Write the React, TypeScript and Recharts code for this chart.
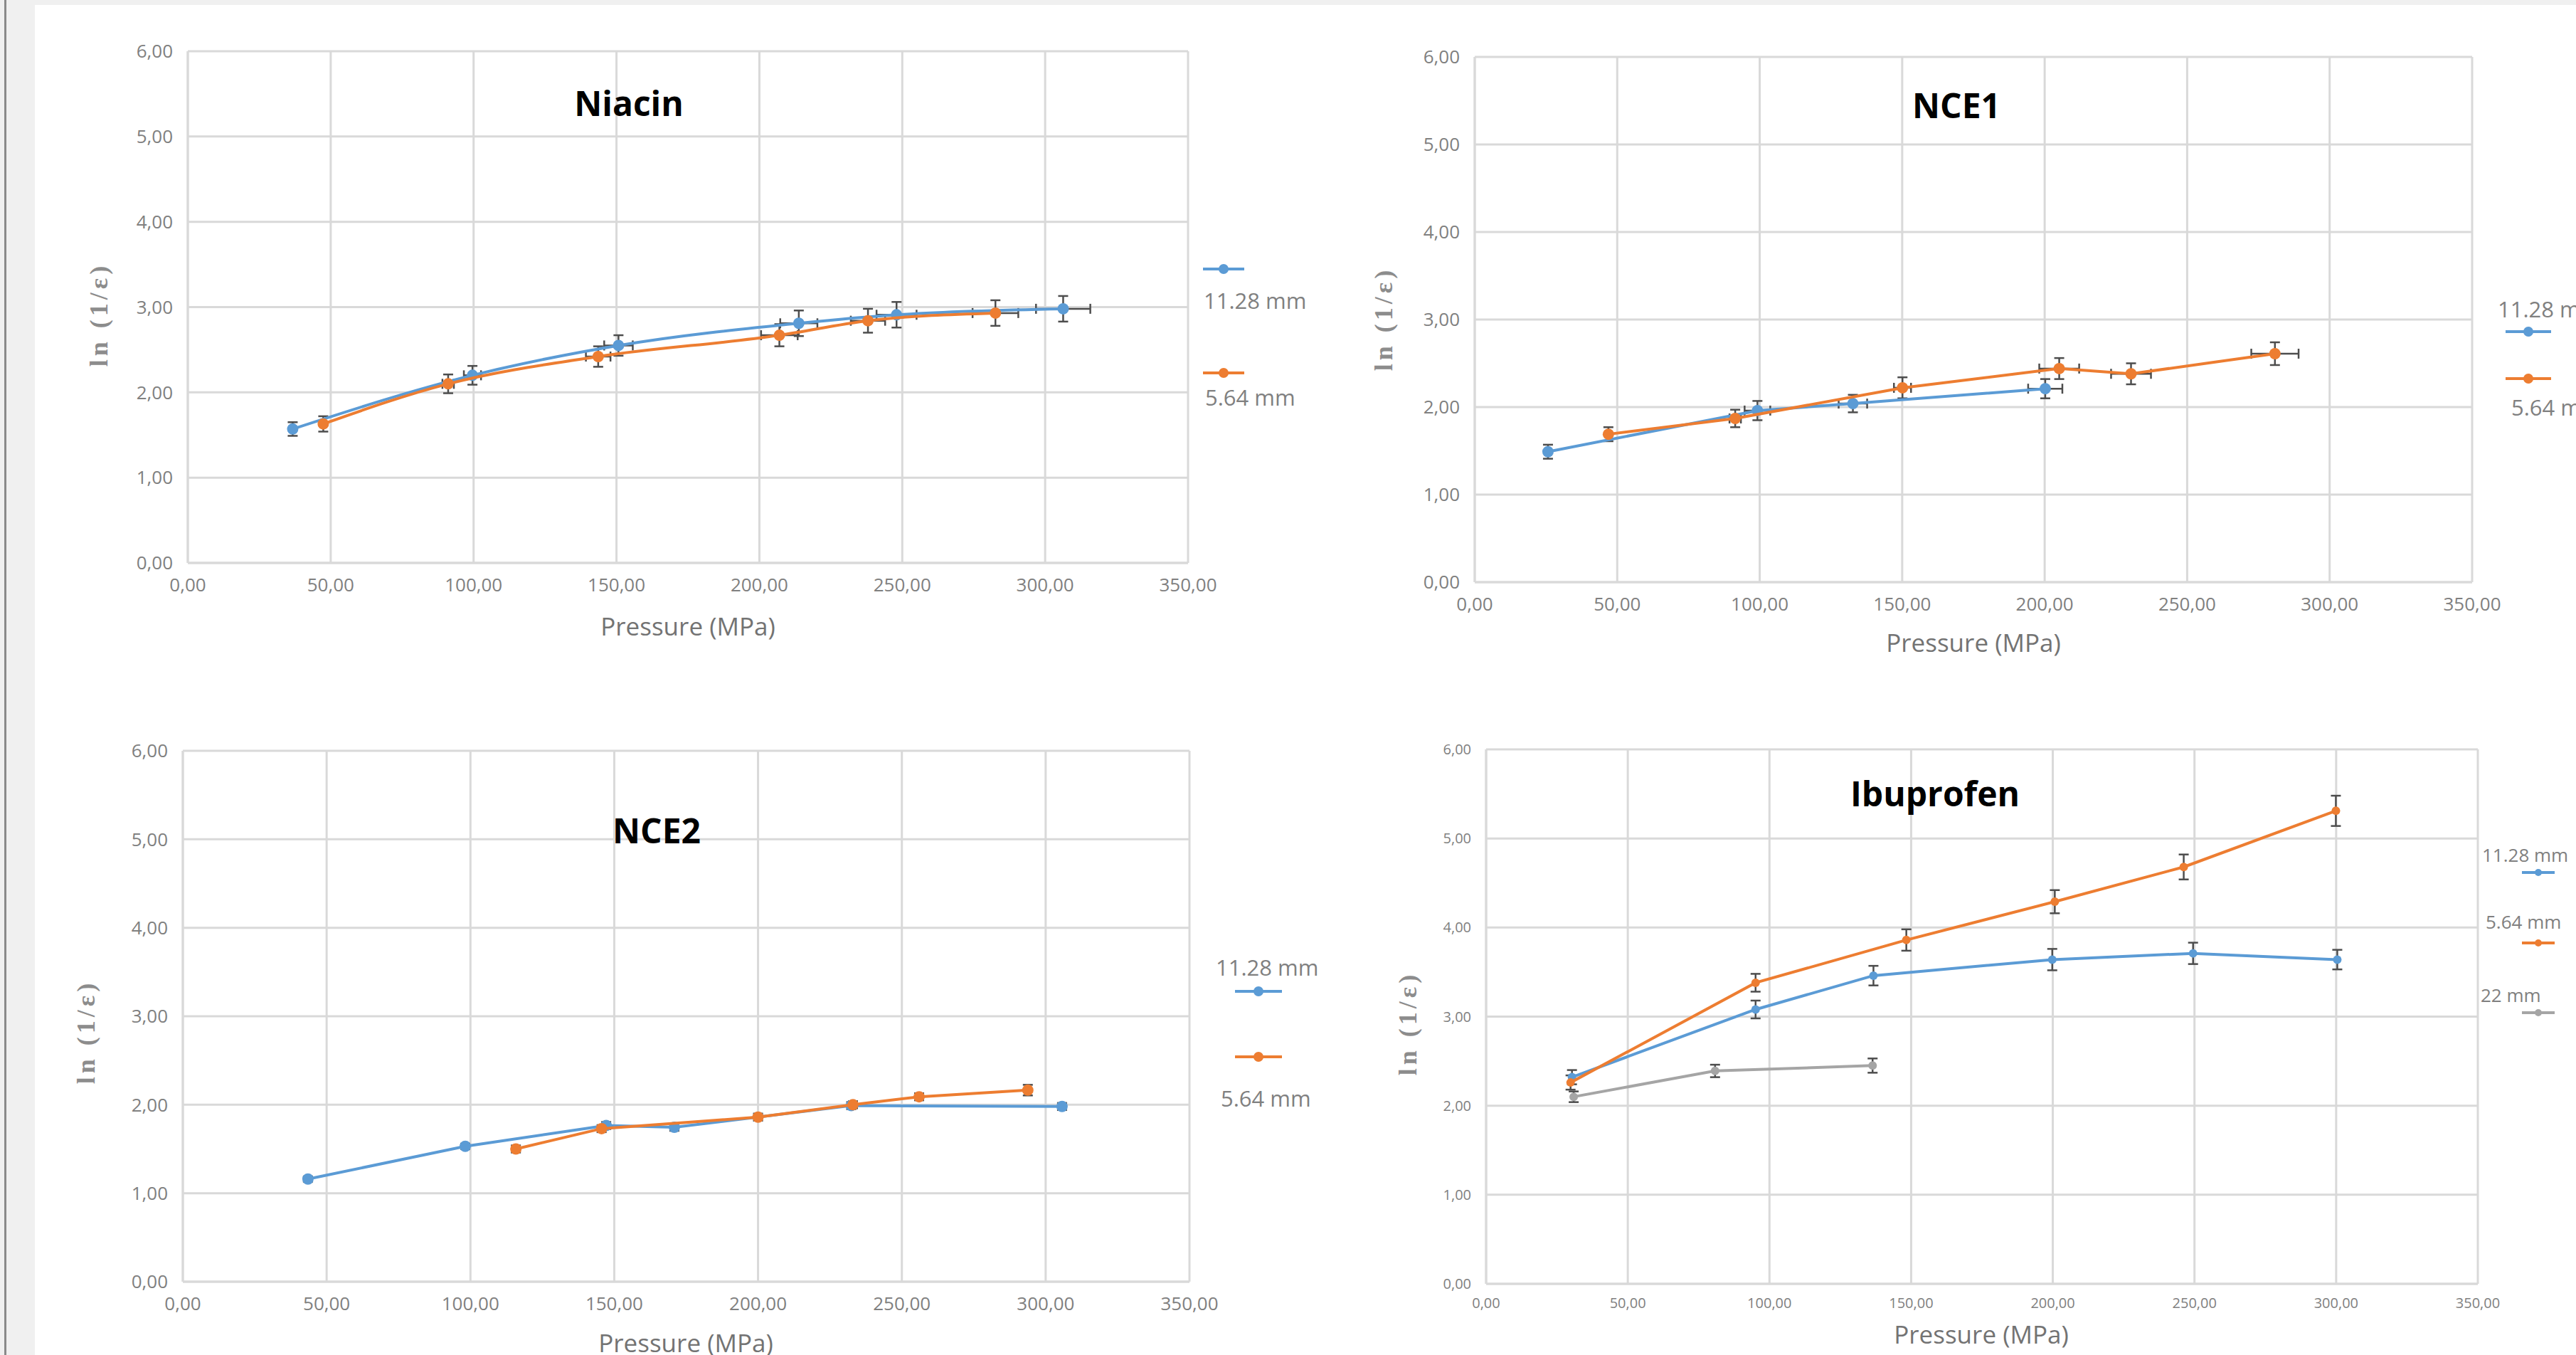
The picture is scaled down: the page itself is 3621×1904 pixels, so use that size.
import React from "react";
import {
  ScatterChart,
  Scatter,
  XAxis,
  YAxis,
  CartesianGrid,
  ErrorBar,
} from "recharts";

// each point: [pressure (MPa), ln(1/e), error on ln, error on pressure]
type Pt = [number, number, number, number];

const pressureTicks = [0, 50, 100, 150, 200, 250, 300, 350];
const lnTicks = [0, 1, 2, 3, 4, 5, 6];
const seriesNames = ["11.28 mm", "5.64 mm", "22 mm"];

const niacin1128: Pt[] = [
  [36.7, 1.57, 0.08, 0],
  [99.6, 2.2, 0.11, 3],
  [150.7, 2.55, 0.12, 5],
  [213.8, 2.81, 0.15, 6.5],
  [248, 2.91, 0.15, 7],
  [306.3, 2.98, 0.15, 9.5],
];
const niacin564: Pt[] = [
  [47.4, 1.63, 0.09, 0],
  [91.1, 2.1, 0.11, 2],
  [143.6, 2.42, 0.12, 4.3],
  [207, 2.67, 0.13, 6.4],
  [238, 2.84, 0.14, 6],
  [282.6, 2.93, 0.15, 8],
];
const nce1_1128: Pt[] = [
  [25.7, 1.49, 0.08, 0],
  [99.2, 1.96, 0.11, 4.5],
  [132.7, 2.04, 0.1, 5],
  [200.2, 2.21, 0.11, 6],
];
const nce1_564: Pt[] = [
  [46.9, 1.69, 0.08, 0],
  [91.4, 1.87, 0.1, 2],
  [150.1, 2.22, 0.12, 3],
  [205.1, 2.44, 0.12, 7],
  [230.3, 2.38, 0.12, 7],
  [280.8, 2.61, 0.13, 8.3],
];
const nce2_1128: Pt[] = [
  [43.5, 1.16, 0.03, 0],
  [98.2, 1.53, 0.03, 0],
  [147.2, 1.765, 0.04, 0],
  [170.9, 1.745, 0.04, 0],
  [232.4, 1.99, 0.04, 0],
  [305.7, 1.98, 0.04, 0],
];
const nce2_564: Pt[] = [
  [115.8, 1.5, 0.04, 0],
  [145.6, 1.73, 0.04, 0],
  [200, 1.86, 0.04, 0],
  [233, 2.0, 0.04, 0],
  [256, 2.09, 0.04, 0],
  [293.8, 2.165, 0.06, 0],
];
const ibu1128: Pt[] = [
  [30.3, 2.32, 0.08, 0],
  [95.1, 3.08, 0.1, 0],
  [136.7, 3.46, 0.11, 0],
  [199.8, 3.64, 0.12, 0],
  [249.5, 3.71, 0.12, 0],
  [300.4, 3.64, 0.11, 0],
];
const ibu564: Pt[] = [
  [29.8, 2.26, 0.08, 0],
  [95.1, 3.38, 0.1, 0],
  [148.3, 3.86, 0.12, 0],
  [200.7, 4.29, 0.13, 0],
  [246.2, 4.68, 0.14, 0],
  [299.9, 5.31, 0.17, 0],
];
const ibu22: Pt[] = [
  [30.9, 2.1, 0.06, 0],
  [80.8, 2.39, 0.07, 0],
  [136.4, 2.45, 0.08, 0],
];

const BLUE = "#5b9bd5";
const ORANGE = "#ed7d31";
const GRAY = "#a5a5a5";
const FONT = "'Open Sans', sans-serif";

const fmt = (v: number) => v.toFixed(2).replace(".", ",");

type LegendPos = { text: [number, number]; mark: [number, number] };

interface PanelSpec {
  title: string;
  plot: [number, number, number, number];
  titlePos: [number, number];
  xLab: [number, number];
  yLab: [number, number];
  tickFont: number;
  legendFont: number;
  markLen: number;
  markR: number;
  dotR: number;
  smooth: boolean;
  series: { name: string; color: string; pts: Pt[] }[];
  legend: LegendPos[];
}

const panels: PanelSpec[] = [
  {
    title: "Niacin",
    plot: [264, 72, 1670, 791],
    titlePos: [884, 145],
    xLab: [967, 879],
    yLab: [139, 442],
    tickFont: 26,
    legendFont: 31,
    markLen: 58,
    markR: 7,
    dotR: 8,
    smooth: true,
    series: [
      { name: seriesNames[0], color: BLUE, pts: niacin1128 },
      { name: seriesNames[1], color: ORANGE, pts: niacin564 },
    ],
    legend: [
      { text: [1692, 422], mark: [1720, 378] },
      { text: [1694, 558], mark: [1720, 524] },
    ],
  },
  {
    title: "NCE1",
    plot: [2073, 80, 3475, 818],
    titlePos: [2750, 148],
    xLab: [2774, 902],
    yLab: [1945, 448],
    tickFont: 26,
    legendFont: 31,
    markLen: 64,
    markR: 7,
    dotR: 8,
    smooth: false,
    series: [
      { name: seriesNames[0], color: BLUE, pts: nce1_1128 },
      { name: seriesNames[1], color: ORANGE, pts: nce1_564 },
    ],
    legend: [
      { text: [3511, 434], mark: [3554, 466] },
      { text: [3530, 572], mark: [3554, 532] },
    ],
  },
  {
    title: "NCE2",
    plot: [257, 1055, 1672, 1801],
    titlePos: [923, 1167],
    xLab: [964, 1886],
    yLab: [121, 1450],
    tickFont: 26,
    legendFont: 31,
    markLen: 66,
    markR: 7,
    dotR: 8,
    smooth: false,
    series: [
      { name: seriesNames[0], color: BLUE, pts: nce2_1128 },
      { name: seriesNames[1], color: ORANGE, pts: nce2_564 },
    ],
    legend: [
      { text: [1709, 1359], mark: [1769, 1393] },
      { text: [1716, 1543], mark: [1769, 1485] },
    ],
  },
  {
    title: "Ibuprofen",
    plot: [2089, 1053, 3483, 1804],
    titlePos: [2720, 1115],
    xLab: [2785, 1874],
    yLab: [1979, 1438],
    tickFont: 20,
    legendFont: 26,
    markLen: 46,
    markR: 5,
    dotR: 6,
    smooth: false,
    series: [
      { name: seriesNames[0], color: BLUE, pts: ibu1128 },
      { name: seriesNames[1], color: ORANGE, pts: ibu564 },
      { name: seriesNames[2], color: GRAY, pts: ibu22 },
    ],
    legend: [
      { text: [3489, 1201], mark: [3568, 1226] },
      { text: [3494, 1295], mark: [3568, 1325] },
      { text: [3487, 1398], mark: [3568, 1423] },
    ],
  },
];

const Panel = ({ p }: { p: PanelSpec }) => {
  const [l, t, r, b] = p.plot;
  const yw = 120;
  const xh = 70;
  const mr = 70;
  const tickStyle = { fontSize: p.tickFont, fill: "#808080", fontFamily: FONT };
  const errColor = "#4d4d4d";

  return (
    <>
      <div style={{ position: "absolute", left: l - yw, top: t - 20 }}>
        <ScatterChart
          width={r - l + yw + mr}
          height={b - t + 20 + xh}
          margin={{ top: 20, right: mr, bottom: 0, left: 0 }}
        >
          <CartesianGrid stroke="#d9d9d9" strokeWidth={3} />
          <XAxis
            type="number"
            dataKey="x"
            domain={[0, 350]}
            ticks={pressureTicks}
            tickFormatter={fmt}
            tick={tickStyle}
            tickLine={false}
            tickSize={0}
            tickMargin={p.tickFont === 26 ? 22 : 20}
            axisLine={{ stroke: "#d9d9d9", strokeWidth: 3 }}
            height={xh}
            interval={0}
          />
          <YAxis
            type="number"
            dataKey="y"
            domain={[0, 6]}
            ticks={lnTicks}
            tickFormatter={fmt}
            tick={tickStyle}
            tickLine={false}
            tickSize={0}
            tickMargin={21}
            axisLine={{ stroke: "#d9d9d9", strokeWidth: 3 }}
            width={yw}
            interval={0}
          />
          {p.series.map((s) => {
            const data = s.pts.map(([x, y, ey, ex]) => ({ x, y, ey, ex }));
            const hasX = s.pts.some((pt) => pt[3] > 0);
            return (
              <Scatter
                key={s.name}
                name={s.name}
                data={data}
                fill={s.color}
                line={{ stroke: s.color, strokeWidth: 4 }}
                lineJointType={p.smooth ? "monotoneX" : "linear"}
                shape={(props: any) => (
                  <circle cx={props.cx} cy={props.cy} r={p.dotR} fill={s.color} />
                )}
                isAnimationActive={false}
              >
                <ErrorBar
                  dataKey="ey"
                  direction="y"
                  width={7}
                  stroke={errColor}
                  strokeWidth={2.5}
                  isAnimationActive={false}
                />
                {hasX && (
                  <ErrorBar
                    dataKey="ex"
                    direction="x"
                    width={7}
                    stroke={errColor}
                    strokeWidth={2.5}
                    isAnimationActive={false}
                  />
                )}
              </Scatter>
            );
          })}
        </ScatterChart>
      </div>

      <div
        style={{
          position: "absolute",
          left: p.titlePos[0],
          top: p.titlePos[1],
          transform: "translate(-50%, -50%)",
          fontFamily: FONT,
          fontWeight: 700,
          fontSize: 48,
          color: "#000",
          whiteSpace: "nowrap",
          lineHeight: 1,
        }}
      >
        {p.title}
      </div>

      <div
        style={{
          position: "absolute",
          left: p.xLab[0],
          top: p.xLab[1],
          transform: "translate(-50%, -50%)",
          fontFamily: FONT,
          fontSize: 35,
          color: "#737373",
          whiteSpace: "nowrap",
          lineHeight: 1,
        }}
      >
        Pressure (MPa)
      </div>

      <div
        style={{
          position: "absolute",
          left: p.yLab[0],
          top: p.yLab[1],
          transform: "translate(-50%, -50%) rotate(-90deg)",
          fontFamily: "'Liberation Serif', serif",
          fontWeight: 700,
          fontSize: 36,
          letterSpacing: 5,
          color: "#8c8c8c",
          whiteSpace: "nowrap",
          lineHeight: 1,
        }}
      >
        ln (1/ε)
      </div>

      {p.legend.map((lg, i) => {
        const s = p.series[i];
        return (
          <React.Fragment key={s.name}>
            <svg
              style={{
                position: "absolute",
                left: lg.mark[0] - p.markLen / 2,
                top: lg.mark[1] - 10,
              }}
              width={p.markLen}
              height={20}
            >
              <line x1={0} y1={10} x2={p.markLen} y2={10} stroke={s.color} strokeWidth={4} />
              <circle cx={p.markLen / 2} cy={10} r={p.markR} fill={s.color} />
            </svg>
            <div
              style={{
                position: "absolute",
                left: lg.text[0],
                top: lg.text[1],
                transform: "translateY(-50%)",
                fontFamily: FONT,
                fontSize: p.legendFont,
                color: "#808080",
                whiteSpace: "nowrap",
                lineHeight: 1,
              }}
            >
              {s.name}
            </div>
          </React.Fragment>
        );
      })}
    </>
  );
};

const App = () => (
  <div
    style={{
      position: "absolute",
      left: 0,
      top: 0,
      width: 3621,
      height: 1904,
      background: "#f0f0f0",
      overflow: "hidden",
    }}
  >
    <div style={{ position: "absolute", left: 6, top: 0, width: 3, height: 1904, background: "#8a8a8a" }} />
    <div style={{ position: "absolute", left: 49, top: 7, right: 0, bottom: 0, background: "#fff" }} />
    {panels.map((p) => (
      <Panel key={p.title} p={p} />
    ))}
  </div>
);

export default App;
